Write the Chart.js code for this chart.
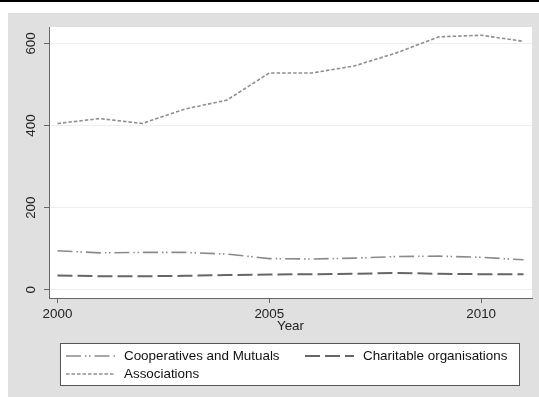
<!DOCTYPE html>
<html>
<head>
<meta charset="utf-8">
<script src="https://cdn.jsdelivr.net/npm/chart.js@4/dist/chart.umd.min.js"></script>
<style>
  html, body { margin: 0; padding: 0; background: #fff; }
  #wrap { width: 539px; height: 397px; }
</style>
</head>
<body>
<div id="wrap"><canvas id="chart" width="539" height="397"></canvas></div>
<script>
// yearly counts by organisation type
const years = [2000, 2001, 2002, 2003, 2004, 2005, 2006, 2007, 2008, 2009, 2010, 2011];
const coops = [95, 90, 91, 91, 87, 76, 75, 77, 81, 82, 79, 73];
const charities = [35, 33, 33, 34, 36, 37, 38, 39, 41, 39, 38, 38];
const associations = [405, 417, 405, 440, 462, 528, 528, 545, 577, 616, 620, 605];

const xTicks = [2000, 2005, 2010];
const yTicks = [0, 200, 400, 600];

const FONT = "'Liberation Sans', Arial, sans-serif";
const FSIZE = 13.4;

function pts(vals) {
  return years.map((y, i) => ({ x: y, y: vals[i] }));
}

// background panels, legend box and rotated y labels
const frame = {
  id: "frame",
  beforeDraw(chart) {
    const ctx = chart.ctx;
    const a = chart.chartArea;
    ctx.save();
    ctx.fillStyle = "#fff";
    ctx.fillRect(0, 0, chart.width, chart.height);
    ctx.fillStyle = "#000";
    ctx.fillRect(0, 0, chart.width, 2);
    ctx.fillStyle = "#e0e0e0";
    ctx.fillRect(8, 13, chart.width - 8, chart.height - 13);
    ctx.fillStyle = "#fff";
    ctx.fillRect(a.left, a.top, a.right - a.left, a.bottom - a.top);
    ctx.restore();
  },
  afterDraw(chart) {
    const ctx = chart.ctx;
    const ys = chart.scales.y;
    ctx.save();
    ctx.fillStyle = "#222";
    ctx.font = FSIZE + "px " + FONT;
    ctx.textAlign = "center";
    ctx.textBaseline = "middle";
    ys.ticks.forEach(t => {
      ctx.save();
      ctx.translate(31.5, ys.getPixelForValue(t.value));
      ctx.rotate(-Math.PI / 2);
      ctx.fillText(String(t.value), 0, 0);
      ctx.restore();
    });

    // legend
    ctx.fillStyle = "#fff";
    ctx.fillRect(60, 343, 460, 43);
    ctx.strokeStyle = "#555";
    ctx.lineWidth = 1;
    ctx.strokeRect(60.5, 343.5, 459, 42);
    const slots = [[66, 356], [305, 356], [66, 374]];
    chart.data.datasets.forEach((ds, i) => {
      const [sx, sy] = slots[i];
      ctx.beginPath();
      ctx.setLineDash(ds.borderDash);
      ctx.strokeStyle = ds.borderColor;
      ctx.lineWidth = ds.borderWidth;
      ctx.moveTo(sx, sy);
      ctx.lineTo(sx + 49, sy);
      ctx.stroke();
      ctx.setLineDash([]);
      ctx.fillStyle = "#111";
      ctx.textAlign = "left";
      ctx.fillText(ds.label, sx + 58, sy);
    });
    ctx.restore();
  }
};

new Chart(document.getElementById("chart"), {
  type: "line",
  data: {
    datasets: [
      {
        label: "Cooperatives and Mutuals",
        data: pts(coops),
        borderColor: "#8a8a8a",
        borderWidth: 1.6,
        borderDash: [15, 4, 1.5, 2.5, 1.5, 4],
        pointRadius: 0,
        tension: 0
      },
      {
        label: "Charitable organisations",
        data: pts(charities),
        borderColor: "#666",
        borderWidth: 2,
        borderDash: [15, 5],
        pointRadius: 0,
        tension: 0
      },
      {
        label: "Associations",
        data: pts(associations),
        borderColor: "#8f8f8f",
        borderWidth: 1.6,
        borderDash: [3.5, 2],
        pointRadius: 0,
        tension: 0
      }
    ]
  },
  options: {
    responsive: false,
    animation: false,
    layout: { padding: { left: 8, top: 27, right: 7, bottom: 0 } },
    plugins: { legend: { display: false }, tooltip: { enabled: false } },
    scales: {
      x: {
        type: "linear",
        min: 1999.8,
        max: 2011.2,
        afterBuildTicks: s => { s.ticks = xTicks.map(v => ({ value: v })); },
        afterFit: s => { s.height = 99; },
        border: { color: "#666", width: 1 },
        grid: { drawOnChartArea: false, tickLength: 5, tickColor: "#666" },
        ticks: {
          color: "#222",
          font: { family: FONT, size: FSIZE },
          padding: 3,
          maxRotation: 0,
          callback: v => String(v)
        },
        title: {
          display: true,
          text: "Year",
          color: "#222",
          font: { family: FONT, size: FSIZE },
          padding: { top: 0, bottom: 63 }
        }
      },
      y: {
        min: -20,
        max: 640,
        afterBuildTicks: s => { s.ticks = yTicks.map(v => ({ value: v })); },
        afterFit: s => { s.width = 41; },
        border: { color: "#666", width: 1 },
        grid: { color: "#e8f0f1", lineWidth: 1, tickLength: 5, tickColor: "#666" },
        ticks: { display: false }
      }
    }
  },
  plugins: [frame]
});
</script>
</body>
</html>
